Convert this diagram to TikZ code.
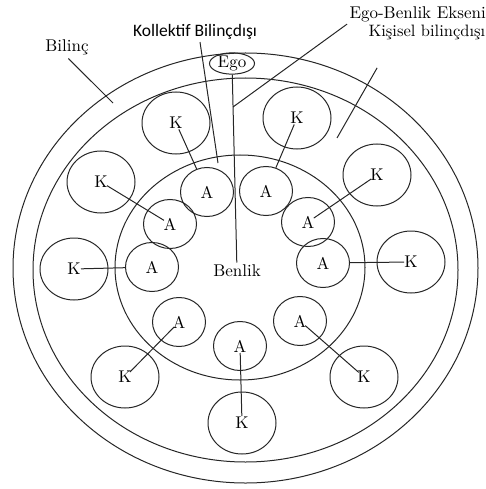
\documentclass[tikz,border=0pt]{standalone}
\usepackage{fontspec}
\setmainfont{lmroman10-regular.otf}
\newfontfamily\carlito{Carlito}
\usetikzlibrary{shapes.geometric}
\tikzset{
  lbl/.style={font=\fontsize{17}{19}\selectfont,inner sep=2pt},
  kk/.style={draw,ellipse,minimum width=68pt,minimum height=62pt,inner sep=0pt,font=\fontsize{17}{19}\selectfont},
  aa/.style={draw,ellipse,minimum width=53pt,minimum height=49pt,inner sep=0pt,font=\fontsize{17}{19}\selectfont}
}
\begin{document}
\begin{tikzpicture}[x=1pt,y=-1pt,line width=1pt,draw=black!85]
\useasboundingbox (0,0) rectangle (486,489);
\draw (245.5,268) ellipse [x radius=232.5pt,y radius=215pt];
\draw (245.5,270) ellipse [x radius=212.5pt,y radius=192pt];
\draw (240,267.5) ellipse [x radius=125pt,y radius=112.5pt];
\node[draw,ellipse,lbl,inner sep=0pt,minimum width=45pt,minimum height=17pt] (ego) at (232,63.5) {Ego};
\node[lbl] (benlik) at (237,271) {Benlik};
\node[lbl] (bilinc) at (67,47) {Bilinç};
\node[font=\carlito\fontsize{17.5}{19}\selectfont,inner sep=2pt] (kollektif) at (195,32) {Kollektif Bilinçdışı};
\node[lbl,anchor=west] (eksen) at (347,14) {Ego-Benlik Ekseni};
\node[lbl,font=\fontsize{16.5}{19}\selectfont,anchor=west] (kisisel) at (366,32) {Kişisel bilinçdışı};
% free ends of the pointers
\coordinate (bilincuc) at (113,103);
\coordinate (kolluc) at (218,163);
\coordinate (eksenuc) at (233,107);
\coordinate (kisiseluc) at (337,138);
\draw (ego) -- (benlik);
\draw[shorten <=2pt] (bilinc.south) -- (bilincuc);
\draw ([xshift=5pt]kollektif.south) -- (kolluc);
\draw (eksen.south west) -- (eksenuc);
\draw[shorten <=30pt] ([xshift=26pt]kisisel.south west) -- (kisiseluc);
% archetypes and complexes
\foreach \n/\x/\y in {1/207/192,2/266/191,3/170/224,4/308/222,5/152/267,6/323/263,7/179/322,8/300/321,9/240/346}
  \node[aa] (a\n) at (\x,\y) {A};
\foreach \n/\x/\y in {1/176/123,2/297/118,3/101/182,4/377/175,5/74/269,6/411/262,7/125/377,8/364/377,9/242/423}
  \node[kk] (k\n) at (\x,\y) {K};
\foreach \n in {1,2,5,6}
  \draw[shorten <=7pt] (k\n.center) -- (a\n);
\foreach \n in {3,4,7,8,9}
  \draw[shorten <=7pt,shorten >=7pt] (k\n.center) -- (a\n.center);
\end{tikzpicture}
\end{document}
